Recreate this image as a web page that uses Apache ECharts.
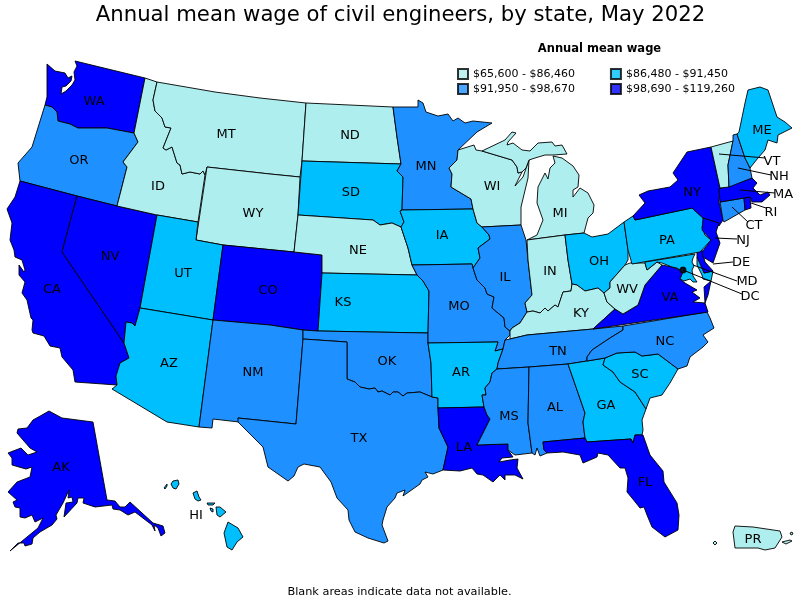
<!DOCTYPE html>
<html lang="en">

<head>
    <meta charset="UTF-8">
    <title>Annual mean wage of civil engineers, by state, May 2022</title>
    <script src="https://cdn.jsdelivr.net/npm/echarts@6/dist/echarts.min.js"></script>
    <style>
        html,
        body {
            margin: 0px;
            padding: 0px;
            background-color: #fff;
        }

        #main {
            width: 800px;
            height: 600px;
        }
    </style>
</head>

<body>
    <div id="main"></div>
    <script>
        var tierNames = ['$65,600 - $86,460', '$86,480 - $91,450', '$91,950 - $98,670', '$98,690 - $119,260'];
        var tierColors = ['#afeeee', '#00bfff', '#1e90ff', '#0000ff'];
        var tier0States = ['ID', 'MT', 'WY', 'ND', 'NE', 'WI', 'MI', 'IN', 'KY', 'WV', 'VT', 'PR'];
        var tier1States = ['UT', 'AZ', 'SD', 'KS', 'IA', 'AR', 'OH', 'PA', 'GA', 'SC', 'ME', 'HI', 'MD', 'DC'];
        var tier2States = ['OR', 'NM', 'TX', 'OK', 'MN', 'MO', 'IL', 'TN', 'MS', 'AL', 'NC', 'NH', 'CT'];
        var tier3States = ['WA', 'CA', 'NV', 'CO', 'LA', 'FL', 'NY', 'NJ', 'MA', 'RI', 'VA', 'DE', 'AK'];
        var tierStates = [tier0States, tier1States, tier2States, tier3States];

        // state outlines, x,y in page pixels
        var outlines = {
            WA: [[[47, 64], [55, 71], [65, 73], [68, 78], [72, 76], [71, 81], [66, 86], [62, 87], [61, 94], [66, 91], [72, 85], [75, 80], [74, 72], [77, 66], [75, 61], [145, 78], [134, 133], [107, 128], [78, 128], [70, 124], [58, 121], [57, 112], [52, 107], [45, 105], [47, 97]]],
            OR: [[[45, 105], [52, 107], [57, 112], [58, 121], [70, 124], [78, 128], [107, 128], [134, 133], [138, 142], [123, 162], [127, 167], [117, 206], [77, 196], [20, 181], [18, 163], [32, 147]]],
            CA: [[[20, 181], [77, 196], [62, 252], [124, 343], [129, 358], [120, 363], [120, 372], [116, 376], [117, 385], [75, 382], [73, 370], [62, 357], [60, 348], [50, 346], [44, 336], [33, 333], [32, 330], [33, 320], [31, 318], [27, 300], [22, 293], [25, 282], [19, 275], [19, 265], [24, 272], [25, 270], [22, 260], [15, 257], [14, 250], [10, 240], [12, 223], [7, 209], [15, 197]]],
            NV: [[[77, 196], [117, 206], [157, 215], [140, 308], [135, 326], [132, 323], [126, 322], [124, 343], [62, 252]]],
            ID: [[[145, 78], [157, 82], [153, 100], [155, 111], [162, 118], [165, 127], [171, 128], [163, 148], [166, 150], [172, 147], [177, 163], [180, 165], [182, 174], [190, 172], [200, 174], [203, 171], [205, 175], [198, 222], [157, 215], [117, 206], [127, 167], [123, 162], [138, 142], [134, 133]]],
            MT: [[[157, 82], [215, 92], [260, 98], [306, 103], [302, 161], [300, 177], [270, 174], [207, 167], [205, 175], [203, 171], [200, 174], [190, 172], [182, 174], [180, 165], [177, 163], [172, 147], [166, 150], [163, 148], [171, 128], [165, 127], [162, 118], [155, 111], [153, 100]]],
            WY: [[[207, 167], [270, 174], [300, 177], [298, 215], [294, 252], [223, 245], [196, 240]]],
            UT: [[[157, 215], [198, 222], [196, 240], [223, 245], [213, 320], [140, 308]]],
            CO: [[[223, 245], [294, 252], [322, 255], [322, 273], [318, 331], [303, 330], [270, 325], [213, 320]]],
            AZ: [[[140, 308], [213, 320], [199, 427], [167, 422], [112, 389], [117, 385], [116, 376], [120, 363], [129, 358], [124, 343], [126, 322], [132, 323], [135, 326]]],
            NM: [[[213, 320], [270, 325], [303, 330], [303, 339], [296, 424], [238, 418], [239, 422], [213, 419], [212, 428], [199, 427]]],
            ND: [[[306, 103], [393, 107], [397, 137], [401, 164], [302, 161]]],
            SD: [[[302, 161], [401, 164], [397, 171], [403, 177], [402, 210], [400, 211], [404, 222], [401, 227], [392, 223], [380, 225], [373, 220], [298, 215]]],
            NE: [[[298, 215], [373, 220], [380, 225], [392, 223], [401, 227], [403, 233], [408, 248], [412, 265], [417, 275], [322, 273], [322, 255], [294, 252]]],
            KS: [[[322, 273], [417, 275], [423, 281], [429, 291], [428, 333], [318, 331]]],
            OK: [[[303, 330], [318, 331], [428, 333], [428, 343], [431, 363], [432, 397], [420, 392], [407, 393], [403, 396], [398, 392], [393, 392], [390, 395], [382, 391], [378, 392], [375, 388], [369, 389], [360, 387], [355, 382], [347, 379], [347, 342], [303, 339]]],
            TX: [[[303, 339], [347, 342], [347, 379], [355, 382], [360, 387], [369, 389], [375, 388], [378, 392], [382, 391], [390, 395], [393, 392], [398, 392], [403, 396], [407, 393], [420, 392], [432, 397], [438, 398], [438, 408], [439, 428], [448, 447], [443, 470], [433, 474], [425, 472], [428, 477], [422, 480], [420, 484], [403, 496], [405, 490], [397, 493], [395, 498], [387, 507], [383, 520], [382, 525], [388, 541], [384, 543], [368, 538], [355, 532], [349, 520], [348, 510], [337, 498], [331, 482], [320, 467], [304, 464], [298, 467], [294, 476], [288, 481], [268, 467], [263, 447], [238, 422], [238, 418], [296, 424]]],
            MN: [[[393, 107], [418, 107], [418, 100], [423, 103], [426, 112], [438, 116], [448, 114], [453, 121], [458, 118], [465, 123], [473, 121], [492, 123], [477, 132], [458, 150], [457, 160], [449, 168], [452, 174], [451, 187], [471, 199], [473, 209], [402, 210], [403, 177], [397, 171], [401, 164], [397, 137]]],
            IA: [[[402, 210], [473, 209], [477, 223], [482, 227], [489, 235], [490, 239], [478, 248], [480, 258], [473, 268], [472, 264], [412, 265], [408, 248], [403, 233], [401, 227], [404, 222], [400, 211]]],
            MO: [[[412, 265], [472, 264], [473, 268], [477, 280], [485, 288], [487, 294], [494, 297], [492, 308], [504, 318], [505, 327], [510, 331], [510, 335], [505, 340], [503, 349], [495, 351], [498, 342], [428, 343], [428, 333], [429, 291], [423, 281], [417, 275]]],
            AR: [[[428, 343], [498, 342], [495, 351], [503, 349], [498, 363], [497, 369], [492, 373], [490, 382], [485, 388], [486, 395], [482, 395], [484, 407], [438, 408], [438, 398], [432, 397], [431, 363]]],
            LA: [[[438, 408], [484, 407], [487, 415], [490, 419], [486, 427], [477, 445], [508, 444], [508, 450], [513, 457], [502, 458], [499, 462], [510, 460], [518, 459], [517, 468], [523, 479], [515, 475], [505, 475], [505, 480], [500, 475], [493, 482], [483, 475], [477, 474], [472, 468], [460, 471], [443, 470], [448, 447], [439, 428]]],
            WI: [[[458, 150], [474, 145], [476, 150], [482, 151], [512, 160], [517, 167], [518, 173], [522, 172], [515, 186], [523, 177], [529, 160], [528, 178], [521, 207], [521, 225], [482, 227], [477, 223], [473, 209], [471, 199], [451, 187], [452, 174], [449, 168], [457, 160]]],
            IL: [[[482, 227], [521, 225], [526, 240], [528, 260], [532, 295], [525, 303], [527, 312], [520, 323], [512, 328], [510, 331], [505, 327], [504, 318], [492, 308], [494, 297], [487, 294], [485, 288], [477, 280], [473, 268], [480, 258], [478, 248], [490, 239], [489, 235]]],
            MI: [
                [[482, 151], [505, 140], [512, 132], [516, 133], [508, 142], [507, 145], [513, 143], [522, 150], [530, 151], [538, 143], [552, 142], [555, 146], [562, 145], [567, 154], [553, 155], [545, 155], [535, 158], [529, 160], [526, 168], [522, 172], [518, 173], [517, 167], [512, 160]],
                [[553, 156], [562, 158], [573, 166], [579, 175], [578, 187], [573, 190], [573, 197], [580, 188], [588, 193], [594, 205], [593, 213], [588, 218], [584, 233], [565, 235], [527, 240], [537, 235], [543, 220], [537, 203], [538, 187], [545, 173], [548, 179], [550, 168], [555, 163]]
            ],
            IN: [[[527, 240], [565, 235], [568, 260], [572, 284], [571, 291], [563, 292], [558, 307], [555, 305], [548, 311], [545, 308], [540, 313], [533, 311], [527, 312], [525, 303], [532, 295], [528, 260]]],
            OH: [[[565, 235], [584, 233], [592, 237], [608, 234], [624, 222], [628, 250], [628, 260], [625, 265], [610, 282], [610, 288], [604, 293], [598, 288], [585, 291], [577, 285], [572, 284], [568, 260]]],
            KY: [[[510, 339], [510, 331], [512, 328], [520, 323], [527, 312], [533, 311], [540, 313], [545, 308], [548, 311], [555, 305], [558, 307], [563, 292], [571, 291], [572, 284], [577, 285], [585, 291], [598, 288], [604, 293], [607, 302], [615, 309], [593, 329], [527, 335]]],
            TN: [[[505, 340], [510, 339], [527, 335], [593, 329], [623, 326], [623, 330], [610, 338], [592, 350], [587, 357], [587, 361], [568, 364], [529, 367], [497, 369], [498, 363], [503, 349]]],
            MS: [[[497, 369], [529, 367], [528, 423], [532, 453], [515, 455], [508, 450], [508, 444], [477, 445], [486, 427], [490, 419], [487, 415], [484, 407], [482, 395], [486, 395], [485, 388], [490, 382], [492, 373]]],
            AL: [[[529, 367], [568, 364], [585, 413], [583, 422], [585, 438], [543, 442], [544, 450], [547, 453], [540, 456], [537, 448], [535, 455], [532, 453], [528, 423]]],
            GA: [[[568, 364], [587, 361], [605, 358], [603, 365], [613, 372], [620, 382], [635, 392], [646, 409], [642, 420], [643, 430], [642, 435], [635, 435], [633, 443], [631, 439], [587, 442], [585, 438], [583, 422], [585, 413]]],
            FL: [[[543, 442], [585, 438], [587, 442], [631, 439], [633, 443], [635, 435], [643, 435], [650, 455], [663, 471], [664, 482], [677, 503], [679, 515], [678, 530], [665, 537], [652, 527], [647, 515], [644, 507], [640, 508], [632, 498], [627, 492], [628, 478], [625, 468], [620, 468], [608, 455], [598, 453], [597, 457], [583, 463], [580, 455], [563, 452], [547, 453], [544, 450]]],
            SC: [[[605, 358], [617, 353], [635, 352], [642, 356], [658, 354], [678, 369], [670, 383], [662, 395], [650, 398], [646, 409], [635, 392], [620, 382], [613, 372], [603, 365]]],
            NC: [[[623, 326], [707, 312], [710, 318], [714, 328], [703, 335], [708, 342], [703, 347], [690, 357], [687, 366], [678, 369], [658, 354], [642, 356], [635, 352], [617, 353], [605, 358], [587, 361], [587, 357], [592, 350], [610, 338], [623, 330]]],
            VA: [
                [[615, 309], [623, 314], [638, 305], [645, 285], [662, 265], [672, 267], [680, 270], [683, 272], [680, 279], [685, 283], [697, 290], [692, 292], [700, 298], [693, 302], [705, 303], [708, 312], [593, 329]],
                [[704, 287], [711, 281], [708, 295], [705, 303]]
            ],
            WV: [[[625, 265], [630, 263], [645, 263], [647, 270], [657, 262], [662, 265], [645, 285], [638, 305], [623, 314], [615, 309], [607, 302], [604, 293], [610, 288], [610, 282]]],
            MD: [
                [[645, 262], [695, 254], [693, 258], [692, 262], [694, 266], [692, 270], [693, 276], [697, 282], [693, 282], [690, 279], [684, 281], [680, 279], [683, 272], [677, 268], [672, 267], [662, 263], [657, 262], [647, 270], [645, 263]],
                [[697, 257], [705, 262], [704, 273], [713, 271], [711, 281], [703, 279], [702, 275], [697, 265]]
            ],
            DE: [[[697, 251], [702, 250], [705, 262], [713, 271], [704, 273], [697, 257]]],
            DC: [[[681, 268], [685, 268], [685, 272], [681, 272]]],
            PA: [[[624, 222], [633, 216], [635, 220], [692, 208], [703, 218], [707, 220], [702, 227], [705, 235], [711, 240], [700, 252], [632, 264], [628, 250]]],
            NY: [[[633, 216], [645, 203], [639, 195], [648, 191], [670, 187], [678, 180], [673, 173], [687, 152], [711, 147], [720, 188], [719, 202], [723, 220], [719, 226], [716, 222], [707, 220], [703, 218], [692, 208], [635, 220]]],
            NJ: [[[703, 218], [719, 223], [716, 232], [720, 243], [713, 263], [703, 257], [702, 252], [711, 240], [702, 230]]],
            CT: [[[720, 202], [744, 198], [745, 210], [724, 222], [723, 220]]],
            RI: [[[744, 198], [750, 197], [751, 208], [745, 210]]],
            MA: [[[719, 189], [752, 178], [757, 183], [753, 188], [760, 195], [768, 192], [770, 195], [762, 202], [752, 202], [750, 197], [720, 202]]],
            VT: [[[711, 147], [733, 141], [728, 165], [729, 187], [720, 188]]],
            NH: [[[733, 135], [737, 134], [745, 158], [750, 168], [752, 178], [729, 187], [728, 165], [733, 141]]],
            ME: [[[737, 134], [739, 132], [745, 103], [748, 90], [760, 87], [768, 90], [777, 117], [785, 122], [792, 128], [778, 135], [777, 143], [768, 140], [765, 150], [758, 158], [750, 168], [745, 158]]],
            AK: [[[49, 411], [62, 418], [93, 422], [107, 500], [115, 501], [120, 507], [125, 507], [130, 502], [153, 523], [163, 526], [165, 533], [161, 536], [158, 528], [154, 525], [155, 531], [152, 525], [135, 512], [128, 515], [120, 510], [113, 509], [112, 505], [95, 507], [83, 503], [84, 498], [78, 498], [77, 503], [64, 517], [66, 503], [73, 502], [72, 497], [68, 498], [69, 490], [63, 503], [56, 515], [57, 519], [52, 525], [40, 532], [33, 538], [32, 544], [25, 546], [24, 543], [18, 543], [10, 551], [27, 537], [38, 528], [43, 518], [35, 522], [32, 515], [25, 518], [20, 517], [20, 508], [15, 507], [13, 502], [17, 500], [8, 492], [17, 482], [30, 477], [32, 467], [26, 469], [12, 465], [12, 458], [8, 453], [21, 448], [28, 455], [37, 452], [30, 448], [17, 433], [18, 429], [27, 428], [33, 420], [42, 415]]],
            HI: [
                [[171, 484], [173, 481], [178, 480], [179, 484], [176, 489], [173, 488]],
                [[164, 488], [167, 484], [167, 486], [165, 489]],
                [[193, 493], [197, 491], [199, 497], [201, 500], [198, 501], [195, 499]],
                [[207, 503], [215, 503], [213, 505], [208, 505]],
                [[210, 508], [213, 509], [213, 512], [211, 511]],
                [[216, 507], [220, 507], [226, 512], [220, 517], [217, 515]],
                [[228, 522], [238, 528], [243, 537], [237, 542], [232, 550], [227, 547], [224, 533]]
            ],
            PR: [
                [[735, 526], [753, 527], [780, 531], [782, 537], [775, 548], [765, 550], [758, 548], [735, 548], [733, 532]],
                [[713, 543], [715, 541], [717, 543], [715, 545]],
                [[782, 542], [790, 540], [792, 541], [786, 544]],
                [[790, 533], [792, 532], [793, 534], [791, 535]]
            ]
        };

        // where each state's name sits
        var labelAnchors = {
            WA: [94, 102], OR: [79, 161], CA: [52, 290], NV: [110, 257], ID: [158, 187], MT: [226, 135], WY: [253, 214],
            UT: [183, 274], AZ: [169, 364], CO: [268, 291], NM: [253, 373], ND: [350, 136], SD: [351, 193], NE: [358, 251],
            KS: [343, 303], OK: [387, 362], TX: [359, 439], MN: [426, 167], IA: [442, 236], MO: [459, 307], AR: [461, 373],
            LA: [464, 448], WI: [492, 187], IL: [505, 278], MI: [560, 214], IN: [550, 272], OH: [599, 262], KY: [581, 314],
            TN: [558, 352], MS: [509, 417], AL: [555, 408], GA: [606, 406], FL: [645, 483], SC: [640, 375], NC: [665, 342],
            VA: [670, 298], WV: [627, 290], PA: [667, 241], NY: [692, 193], ME: [762, 131], AK: [61, 468], HI: [196, 516],
            PR: [753, 540], VT: [772, 162], NH: [779, 177], MA: [783, 195], RI: [771, 213], CT: [754, 226], NJ: [743, 241],
            DE: [741, 263], MD: [747, 282], DC: [750, 297]
        };

        // leader lines for the small north-eastern states
        var calloutLines = [
            [[719, 154], [765, 158]], [[738, 168], [771, 175]], [[740, 190], [775, 193]], [[751, 203], [766, 208]],
            [[732, 207], [748, 222]], [[715, 238], [737, 239]], [[713, 264], [733, 262]], [[693, 265], [737, 281]],
            [[683, 270], [742, 294]]
        ];
        var dcDot = [683, 270];

        function flip(p) {
            return [p[0], -p[1]];
        }

        var features = Object.keys(outlines).map(function (name) {
            return {
                type: 'Feature',
                properties: { name: name, cp: flip(labelAnchors[name]) },
                geometry: {
                    type: 'MultiPolygon',
                    coordinates: outlines[name].map(function (ring) {
                        return [ring.map(flip)];
                    })
                }
            };
        });
        echarts.registerMap('usStates', { type: 'FeatureCollection', features: features });

        var stateData = [];
        tierStates.forEach(function (states, tier) {
            states.forEach(function (name) {
                stateData.push({ name: name, value: tier });
            });
        });

        // empty series, only there to feed the legends
        var legendSeries = tierNames.map(function (name, i) {
            return {
                name: name,
                type: 'scatter',
                coordinateSystem: 'geo',
                data: [],
                itemStyle: { color: tierColors[i], borderColor: '#000', borderWidth: 1 }
            };
        });

        function legendRow(names, top) {
            return {
                data: names,
                left: 457,
                top: top,
                itemWidth: 10,
                itemHeight: 10,
                itemGap: 35,
                padding: 0,
                icon: 'rect',
                selectedMode: false,
                textStyle: { fontSize: 11, color: '#000' }
            };
        }

        var chart = echarts.init(document.getElementById('main'));
        chart.setOption({
            animation: false,
            backgroundColor: '#fff',
            textStyle: { fontFamily: 'DejaVu Sans' },
            title: [{
                text: 'Annual mean wage of civil engineers, by state, May 2022',
                left: 395.5,
                top: 0,
                textAlign: 'center',
                textStyle: { fontSize: 21.2, fontWeight: 'normal', color: '#000', fontFamily: 'DejaVu Sans' }
            }, {
                text: 'Annual mean wage',
                left: 594.5,
                top: 38,
                textAlign: 'center',
                textStyle: { fontSize: 11.5, fontWeight: 'bold', color: '#000', fontFamily: 'DejaVu Sans' }
            }, {
                text: 'Blank areas indicate data not available.',
                left: 394.5,
                top: 582,
                textAlign: 'center',
                textStyle: { fontSize: 11.3, fontWeight: 'normal', color: '#000', fontFamily: 'DejaVu Sans' }
            }],
            legend: [legendRow(tierNames.slice(0, 2), 68), legendRow(tierNames.slice(2), 83)],
            visualMap: {
                type: 'piecewise',
                show: false,
                seriesIndex: 0,
                pieces: tierColors.map(function (color, i) {
                    return { value: i, color: color };
                })
            },
            geo: {
                map: 'usStates',
                left: 0,
                top: 0,
                width: 800,
                height: 600,
                aspectScale: 1,
                boundingCoords: [[0, 0], [800, -600]],
                silent: true,
                label: { show: true, fontSize: 13, color: '#000', fontFamily: 'DejaVu Sans' },
                itemStyle: { borderColor: '#000', borderWidth: 0.9, areaColor: '#fff' },
                emphasis: { disabled: true }
            },
            series: [{
                name: 'Annual mean wage',
                type: 'map',
                geoIndex: 0,
                data: stateData
            }, {
                type: 'lines',
                coordinateSystem: 'geo',
                silent: true,
                symbol: 'none',
                lineStyle: { color: '#000', width: 1, opacity: 1 },
                data: calloutLines.map(function (l) {
                    return { coords: l.map(flip) };
                })
            }, {
                type: 'scatter',
                coordinateSystem: 'geo',
                silent: true,
                symbolSize: 7,
                itemStyle: { color: '#000' },
                data: [flip(dcDot)]
            }].concat(legendSeries)
        });
    </script>
</body>

</html>
